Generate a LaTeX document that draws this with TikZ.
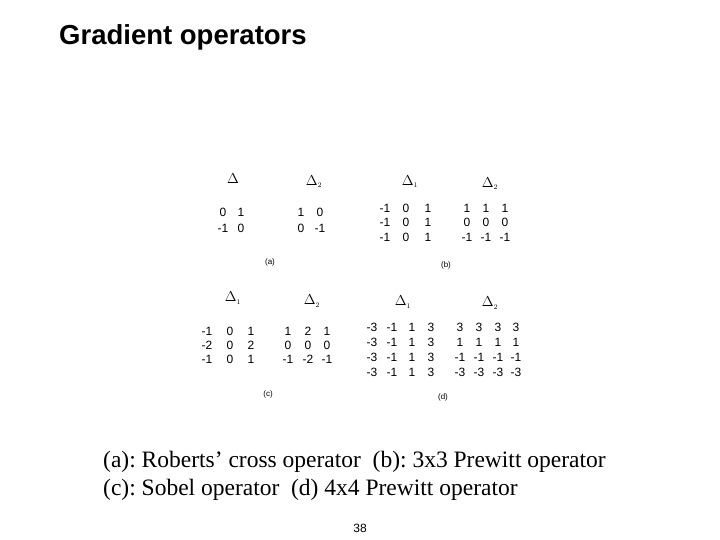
\documentclass[tikz,border=0pt]{standalone}
\usepackage{fontspec}
\setmainfont{Liberation Serif}
\setsansfont{Liberation Sans}
\frenchspacing
\begin{document}
\begin{tikzpicture}[x=1pt,y=-1pt,
  num/.style={font=\sffamily\fontsize{12}{12}\selectfont,inner sep=0pt,anchor=center},
  lab/.style={font=\sffamily\fontsize{8}{8}\selectfont,inner sep=0pt},
  dl/.style={font=\fontsize{14}{14}\selectfont,inner sep=0pt}]
\useasboundingbox (0,0) rectangle (720,540);
\node[font=\sffamily\bfseries\fontsize{27.5}{27.5}\selectfont,anchor=west,inner sep=0pt] (title) at (59,37) {Gradient operators};
% (a)
\node[dl] (aD1) at (233,179) {$\Delta$};
\node[dl] (aD2) at (314,182) {$\Delta_{\scriptscriptstyle 2}$};
\foreach \r/\y/\a/\b in {1/212/0/1,2/228/-1/0}{\node[num] (aA\r1) at (223,\y) {\a}; \node[num] (aA\r2) at (241,\y) {\b};}
\foreach \r/\y/\a/\b in {1/212/1/0,2/228/0/-1}{\node[num] (aB\r1) at (301,\y) {\a}; \node[num] (aB\r2) at (320,\y) {\b};}
\node[lab] (la) at (270,262) {(a)};
% (b)
\node[dl] (bD1) at (410,182) {$\Delta_{\scriptscriptstyle 1}$};
\node[dl] (bD2) at (490,184) {$\Delta_{\scriptscriptstyle 2}$};
\foreach \r/\y in {1/208,2/222,3/237}{
  \node[num] (bA\r1) at (385,\y) {-1}; \node[num] (bA\r2) at (406,\y) {0}; \node[num] (bA\r3) at (428,\y) {1};}
\foreach \r/\y/\v in {1/208/1,2/222/0,3/237/-1}{
  \node[num] (bB\r1) at (467,\y) {\v}; \node[num] (bB\r2) at (486,\y) {\v}; \node[num] (bB\r3) at (505,\y) {\v};}
\node[lab] (lb) at (446,265) {(b)};
% (c)
\node[dl] (cD1) at (233,298) {$\Delta_{\scriptscriptstyle 1}$};
\node[dl] (cD2) at (312,301) {$\Delta_{\scriptscriptstyle 2}$};
\foreach \r/\y/\a/\c in {1/331/-1/1,2/345/-2/2,3/359/-1/1}{
  \node[num] (cA\r1) at (207,\y) {\a}; \node[num] (cA\r2) at (230,\y) {0}; \node[num] (cA\r3) at (251,\y) {\c};}
\foreach \r/\y/\a/\b in {1/331/1/2,2/345/0/0,3/359/-1/-2}{
  \node[num] (cB\r1) at (288,\y) {\a}; \node[num] (cB\r2) at (308,\y) {\b}; \node[num] (cB\r3) at (327,\y) {\a};}
\node[lab] (lc) at (268,394) {(c)};
% (d)
\node[dl] (dD1) at (403,302) {$\Delta_{\scriptscriptstyle 1}$};
\node[dl] (dD2) at (490,303) {$\Delta_{\scriptscriptstyle 2}$};
\foreach \r/\y in {1/327,2/342,3/357,4/372}{
  \node[num] (dA\r1) at (372,\y) {-3}; \node[num] (dA\r2) at (392,\y) {-1}; \node[num] (dA\r3) at (412,\y) {1}; \node[num] (dA\r4) at (431,\y) {3};}
\foreach \r/\y/\v in {1/327/3,2/342/1,3/357/-1,4/372/-3}{
  \node[num] (dB\r1) at (460,\y) {\v}; \node[num] (dB\r2) at (479,\y) {\v}; \node[num] (dB\r3) at (498,\y) {\v}; \node[num] (dB\r4) at (516,\y) {\v};}
\node[lab] (ld) at (443,397) {(d)};
% caption
\node[font=\fontsize{23.5}{23.5}\selectfont,anchor=west,inner sep=0pt] (cap1) at (103,462) {(a): Roberts’ cross operator\ \ (b): 3x3 Prewitt operator};
\node[font=\fontsize{23.5}{23.5}\selectfont,anchor=west,inner sep=0pt] (cap2) at (103,490) {(c): Sobel operator\ \ (d) 4x4 Prewitt operator};
\node[font=\sffamily\fontsize{12}{12}\selectfont,inner sep=0pt] (pg) at (360,528) {38};
\end{tikzpicture}
\end{document}
